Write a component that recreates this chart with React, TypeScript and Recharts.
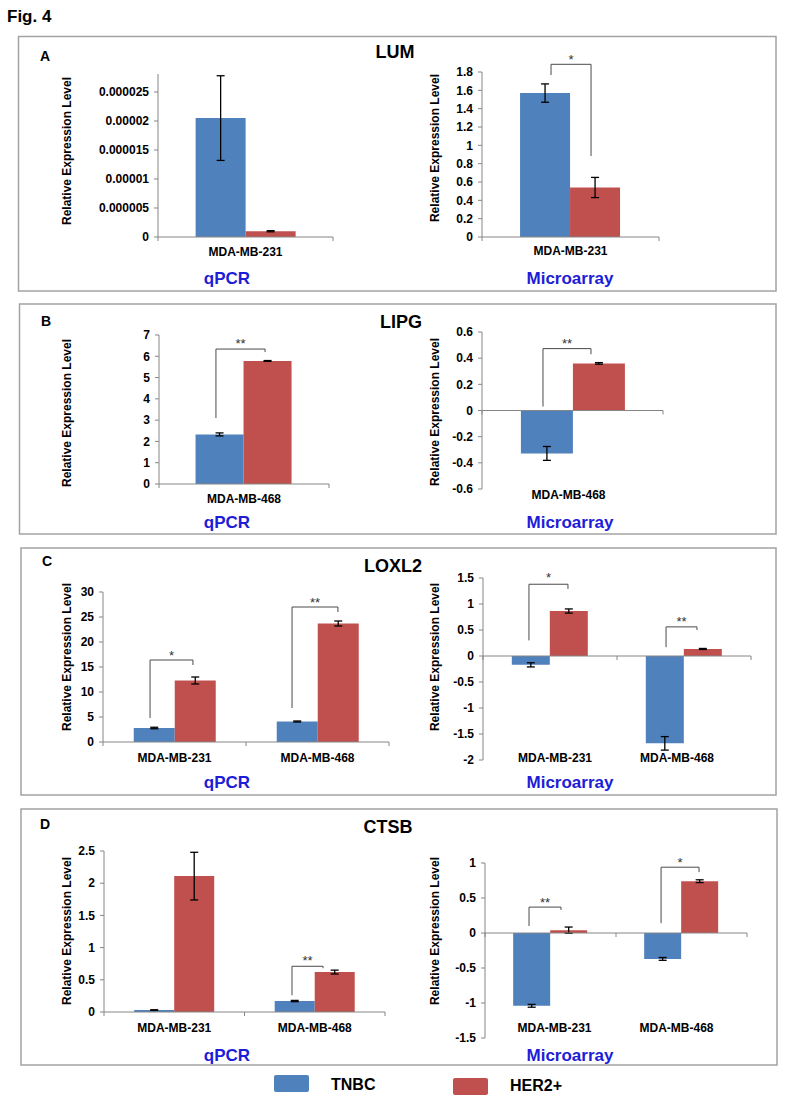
import React from 'react';
import { BarChart, Bar, XAxis, YAxis, ErrorBar, ReferenceLine, ReferenceDot } from 'recharts';

const FONT = "'Liberation Sans', Arial, Helvetica, sans-serif";
const BLUE = '#4F81BD';
const RED = '#C0504D';
const AXIS = '#868686';
const TITLE_BLUE = '#1d1dd8';
const BOX = '#a3a3a3';

// ---------- categories ----------
const catsOne231 = ['MDA-MB-231'];
const catsOne468 = ['MDA-MB-468'];
const catsTwo = ['MDA-MB-231', 'MDA-MB-468'];

// ---------- LUM ----------
const lumQpcrTnbc = [0.0000205];
const lumQpcrTnbcErr = [0.0000073];
const lumQpcrHer2 = [0.000001];
const lumQpcrHer2Err = [0.0000001];
const lumQpcrTicks = [0, 0.000005, 0.00001, 0.000015, 0.00002, 0.000025];

const lumMicroTnbc = [1.57];
const lumMicroTnbcErr = [0.1];
const lumMicroHer2 = [0.54];
const lumMicroHer2Err = [0.11];
const lumMicroTicks = [0, 0.2, 0.4, 0.6, 0.8, 1, 1.2, 1.4, 1.6, 1.8];

// ---------- LIPG ----------
const lipgQpcrTnbc = [2.33];
const lipgQpcrTnbcErr = [0.07];
const lipgQpcrHer2 = [5.78];
const lipgQpcrHer2Err = [0.02];
const lipgQpcrTicks = [0, 1, 2, 3, 4, 5, 6, 7];

const lipgMicroTnbc = [-0.328];
const lipgMicroTnbcErr = [0.053];
const lipgMicroHer2 = [0.36];
const lipgMicroHer2Err = [0.006];
const lipgMicroTicks = [-0.6, -0.4, -0.2, 0, 0.2, 0.4, 0.6];

// ---------- LOXL2 ----------
const loxQpcrTnbc = [2.8, 4.1];
const loxQpcrTnbcErr = [0.15, 0.1];
const loxQpcrHer2 = [12.3, 23.7];
const loxQpcrHer2Err = [0.7, 0.5];
const loxQpcrTicks = [0, 5, 10, 15, 20, 25, 30];

const loxMicroTnbc = [-0.17, -1.68];
const loxMicroTnbcErr = [0.04, 0.13];
const loxMicroHer2 = [0.865, 0.135];
const loxMicroHer2Err = [0.04, 0.01];
const loxMicroTicks = [-2, -1.5, -1, -0.5, 0, 0.5, 1, 1.5];

// ---------- CTSB ----------
const ctsbQpcrTnbc = [0.03, 0.17];
const ctsbQpcrTnbcErr = [0.005, 0.01];
const ctsbQpcrHer2 = [2.11, 0.62];
const ctsbQpcrHer2Err = [0.37, 0.03];
const ctsbQpcrTicks = [0, 0.5, 1, 1.5, 2, 2.5];

const ctsbMicroTnbc = [-1.04, -0.37];
const ctsbMicroTnbcErr = [0.02, 0.02];
const ctsbMicroHer2 = [0.04, 0.74];
const ctsbMicroHer2Err = [0.045, 0.02];
const ctsbMicroTicks = [-1.5, -1, -0.5, 0, 0.5, 1];

// ---------- significance brackets (x in category units, y in data units) ----------
type Bracket = { x1: number; x2: number; top: number; yl: number; yr: number; label: string; ly: number };
const lumMicroBrackets: Bracket[] = [{ x1: 0.39, x2: 0.616, top: 1.884, yl: 1.767, yr: 0.884, label: '*', ly: 1.95 }];
const lipgQpcrBrackets: Bracket[] = [{ x1: 0.335, x2: 0.624, top: 6.34, yl: 3.1, yr: 6.2, label: '**', ly: 6.67 }];
const lipgMicroBrackets: Bracket[] = [{ x1: 0.337, x2: 0.602, top: 0.473, yl: 0.03, yr: 0.43, label: '**', ly: 0.527 }];
const loxQpcrBrackets: Bracket[] = [
  { x1: 0.329, x2: 0.629, top: 16.4, yl: 4.8, yr: 15.4, label: '*', ly: 17.7 },
  { x1: 1.322, x2: 1.643, top: 27, yl: 6.8, yr: 26, label: '**', ly: 28.2 },
];
const loxMicroBrackets: Bracket[] = [
  { x1: 0.343, x2: 0.634, top: 1.38, yl: 0.3, yr: 1.29, label: '*', ly: 1.53 },
  { x1: 1.366, x2: 1.597, top: 0.56, yl: 0.17, yr: 0.5, label: '**', ly: 0.69 },
];
const ctsbQpcrBrackets: Bracket[] = [{ x1: 1.338, x2: 1.559, top: 0.71, yl: 0.26, yr: 0.68, label: '**', ly: 0.82 }];
const ctsbMicroBrackets: Bracket[] = [
  { x1: 0.336, x2: 0.58, top: 0.37, yl: 0.1, yr: 0.33, label: '**', ly: 0.46 },
  { x1: 1.344, x2: 1.634, top: 0.94, yl: 0.14, yr: 0.87, label: '*', ly: 1.03 },
];

type SubProps = {
  cats: string[];
  tnbc: number[];
  tnbcErr: number[];
  her2: number[];
  her2Err: number[];
  domain: [number, number];
  ticks: number[];
  box: [number, number, number, number];
  labelDy: number;
  labelDx?: number[];
  brackets: Bracket[];
};

const CatTick = (props: any) => {
  const { x, y, payload, dy, dxs } = props;
  const dx = dxs ? dxs[payload.index] || 0 : 0;
  return (
    <text
      x={x + dx}
      y={y + dy}
      textAnchor="middle"
      dominantBaseline="central"
      fontFamily={FONT}
      fontWeight="bold"
      fontSize={12}
      fill="#000"
    >
      {payload.value}
    </text>
  );
};

function SubChart(p: SubProps) {
  const TOP = 30;
  const WY = 64;
  const XH = 40;
  const RM = 10;
  const [x0, x1, y0, y1] = p.box;
  const left = x0 - WY;
  const top = y0 - TOP;
  const width = x1 - left + RM;
  const height = y1 - top + XH;
  const data = p.cats.map((c, i) => ({
    cat: c,
    pos: i + 0.5,
    tnbc: p.tnbc[i],
    tnbcErr: p.tnbcErr[i],
    her2: p.her2[i],
    her2Err: p.her2Err[i],
  }));
  const tickLen = (4 * (p.domain[1] - p.domain[0])) / (y1 - y0);
  const bounds = Array.from({ length: p.cats.length + 1 }, (_, k) => k);
  const lineStyle = { stroke: '#4a4a4a', strokeWidth: 1 };
  return (
    <div style={{ position: 'absolute', left, top, width, height }}>
      <BarChart
        width={width}
        height={height}
        data={data}
        margin={{ top: TOP, right: RM, left: 0, bottom: 0 }}
        barCategoryGap="21.5%"
        barGap={0}
      >
        <XAxis
          xAxisId="c"
          dataKey="cat"
          axisLine={false}
          tickLine={false}
          tickSize={0}
          tickMargin={0}
          height={XH}
          interval={0}
          tick={<CatTick dy={p.labelDy} dxs={p.labelDx} />}
        />
        <XAxis
          xAxisId="n"
          dataKey="pos"
          type="number"
          domain={[0, p.cats.length]}
          hide
          allowDataOverflow
        />
        <YAxis
          domain={p.domain}
          ticks={p.ticks}
          interval={0}
          allowDataOverflow
          width={WY}
          tickSize={4}
          tickMargin={5}
          axisLine={{ stroke: AXIS }}
          tickLine={{ stroke: AXIS }}
          tick={{ fontSize: 12, fontWeight: 'bold', fill: '#000', fontFamily: FONT }}
          tickFormatter={(v: number) => String(v)}
        />
        <Bar xAxisId="c" dataKey="tnbc" fill={BLUE} isAnimationActive={false}>
          <ErrorBar dataKey="tnbcErr" width={4} stroke="#000" strokeWidth={1.3} direction="y" />
        </Bar>
        <Bar xAxisId="c" dataKey="her2" fill={RED} isAnimationActive={false}>
          <ErrorBar dataKey="her2Err" width={4} stroke="#000" strokeWidth={1.3} direction="y" />
        </Bar>
        <ReferenceLine xAxisId="n" y={0} stroke={AXIS} strokeWidth={1} ifOverflow="visible" />
        {bounds.map((k) => (
          <ReferenceLine
            key={'b' + k}
            xAxisId="n"
            segment={[
              { x: k, y: 0 },
              { x: k, y: -tickLen },
            ]}
            stroke={AXIS}
            ifOverflow="visible"
          />
        ))}
        {p.brackets.map((b, i) => (
          <ReferenceLine
            key={'l' + i}
            xAxisId="n"
            segment={[
              { x: b.x1, y: b.yl },
              { x: b.x1, y: b.top },
            ]}
            {...lineStyle}
            ifOverflow="visible"
          />
        ))}
        {p.brackets.map((b, i) => (
          <ReferenceLine
            key={'t' + i}
            xAxisId="n"
            segment={[
              { x: b.x1, y: b.top },
              { x: b.x2, y: b.top },
            ]}
            {...lineStyle}
            ifOverflow="visible"
          />
        ))}
        {p.brackets.map((b, i) => (
          <ReferenceLine
            key={'r' + i}
            xAxisId="n"
            segment={[
              { x: b.x2, y: b.top },
              { x: b.x2, y: b.yr },
            ]}
            {...lineStyle}
            ifOverflow="visible"
          />
        ))}
        {p.brackets.map((b, i) => (
          <ReferenceDot
            key={'s' + i}
            xAxisId="n"
            x={(b.x1 + b.x2) / 2}
            y={b.ly}
            r={0}
            ifOverflow="visible"
            shape={(sp: any) => (
              <text
                x={sp.cx}
                y={sp.cy + 6}
                textAnchor="middle"
                fontFamily={FONT}
                fontSize={13}
                fill="#333"
              >
                {b.label}
              </text>
            )}
          />
        ))}
      </BarChart>
    </div>
  );
}

const YLabel = ({ x, y }: { x: number; y: number }) => (
  <text
    x={x}
    y={y}
    transform={`rotate(-90 ${x} ${y})`}
    textAnchor="middle"
    dominantBaseline="central"
    fontFamily={FONT}
    fontWeight="bold"
    fontSize={12}
    fill="#000"
  >
    Relative Expression Level
  </text>
);

export default function App() {
  const boldText = { fontFamily: FONT, fontWeight: 'bold' as const };
  return (
    <div style={{ position: 'absolute', left: 0, top: 0, width: 786, height: 1103, background: '#fff' }}>
      <svg width={786} height={1103} style={{ position: 'absolute', left: 0, top: 0 }}>
        <text x={7} y={22} fontSize={17} fill="#000" {...boldText}>Fig. 4</text>

        <rect x={18.5} y={36.5} width={757.5} height={254.5} fill="none" stroke={BOX} strokeWidth={1.5} />
        <rect x={19.5} y={304} width={756.5} height={230} fill="none" stroke={BOX} strokeWidth={1.5} />
        <rect x={21} y={548} width={755} height={247} fill="none" stroke={BOX} strokeWidth={1.5} />
        <rect x={21} y={809} width={756} height={256} fill="none" stroke={BOX} strokeWidth={1.5} />

        <text x={40} y={61} fontSize={14} {...boldText}>A</text>
        <text x={41} y={326} fontSize={14} {...boldText}>B</text>
        <text x={42} y={566} fontSize={14} {...boldText}>C</text>
        <text x={40} y={829} fontSize={14} {...boldText}>D</text>

        <text x={395} y={58} fontSize={18} textAnchor="middle" {...boldText}>LUM</text>
        <text x={401} y={328} fontSize={18} textAnchor="middle" {...boldText}>LIPG</text>
        <text x={393} y={572} fontSize={18} textAnchor="middle" {...boldText}>LOXL2</text>
        <text x={388} y={833} fontSize={18} textAnchor="middle" {...boldText}>CTSB</text>

        <YLabel x={67} y={151} />
        <YLabel x={435} y={148} />
        <YLabel x={67} y={413} />
        <YLabel x={435} y={412} />
        <YLabel x={67} y={657} />
        <YLabel x={435} y={657} />
        <YLabel x={67} y={931} />
        <YLabel x={435} y={931} />

        {[284, 528, 788, 1061].map((y) => (
          <g key={y}>
            <text x={227} y={y} fontSize={17} textAnchor="middle" fill={TITLE_BLUE} {...boldText}>qPCR</text>
            <text x={570} y={y} fontSize={17} textAnchor="middle" fill={TITLE_BLUE} {...boldText}>Microarray</text>
          </g>
        ))}

        <rect x={274} y={1075} width={35} height={17} rx={2} fill={BLUE} />
        <text x={331} y={1090} fontSize={16} {...boldText}>TNBC</text>
        <rect x={453} y={1078} width={35} height={17} rx={2} fill={RED} />
        <text x={510} y={1091} fontSize={16} {...boldText}>HER2+</text>
      </svg>

      <SubChart cats={catsOne231} tnbc={lumQpcrTnbc} tnbcErr={lumQpcrTnbcErr} her2={lumQpcrHer2} her2Err={lumQpcrHer2Err}
        domain={[0, 0.0000281]} ticks={lumQpcrTicks} box={[158, 333, 74, 237]} labelDy={15} brackets={[]} />
      <SubChart cats={catsOne231} tnbc={lumMicroTnbc} tnbcErr={lumMicroTnbcErr} her2={lumMicroHer2} her2Err={lumMicroHer2Err}
        domain={[0, 1.8]} ticks={lumMicroTicks} box={[482, 659, 72, 237]} labelDy={14} brackets={lumMicroBrackets} />

      <SubChart cats={catsOne468} tnbc={lipgQpcrTnbc} tnbcErr={lipgQpcrTnbcErr} her2={lipgQpcrHer2} her2Err={lipgQpcrHer2Err}
        domain={[0, 7]} ticks={lipgQpcrTicks} box={[159, 329, 335, 484]} labelDy={15} brackets={lipgQpcrBrackets} />
      <SubChart cats={catsOne468} tnbc={lipgMicroTnbc} tnbcErr={lipgMicroTnbcErr} her2={lipgMicroHer2} her2Err={lipgMicroHer2Err}
        domain={[-0.6, 0.6]} ticks={lipgMicroTicks} box={[482, 663, 332, 489]} labelDy={6} labelDx={[-4]} brackets={lipgMicroBrackets} />

      <SubChart cats={catsTwo} tnbc={loxQpcrTnbc} tnbcErr={loxQpcrTnbcErr} her2={loxQpcrHer2} her2Err={loxQpcrHer2Err}
        domain={[0, 30]} ticks={loxQpcrTicks} box={[103, 389, 592, 742]} labelDy={16} brackets={loxQpcrBrackets} />
      <SubChart cats={catsTwo} tnbc={loxMicroTnbc} tnbcErr={loxMicroTnbcErr} her2={loxMicroHer2} her2Err={loxMicroHer2Err}
        domain={[-2, 1.5]} ticks={loxMicroTicks} box={[483, 751, 578, 760]} labelDy={-2} labelDx={[5, -7]} brackets={loxMicroBrackets} />

      <SubChart cats={catsTwo} tnbc={ctsbQpcrTnbc} tnbcErr={ctsbQpcrTnbcErr} her2={ctsbQpcrHer2} her2Err={ctsbQpcrHer2Err}
        domain={[0, 2.5]} ticks={ctsbQpcrTicks} box={[104, 385, 851, 1012]} labelDy={16} brackets={ctsbQpcrBrackets} />
      <SubChart cats={catsTwo} tnbc={ctsbMicroTnbc} tnbcErr={ctsbMicroTnbcErr} her2={ctsbMicroHer2} her2Err={ctsbMicroHer2Err}
        domain={[-1.5, 1]} ticks={ctsbMicroTicks} box={[485, 747, 863, 1038]} labelDy={-10} labelDx={[4, -5]} brackets={ctsbMicroBrackets} />
    </div>
  );
}
